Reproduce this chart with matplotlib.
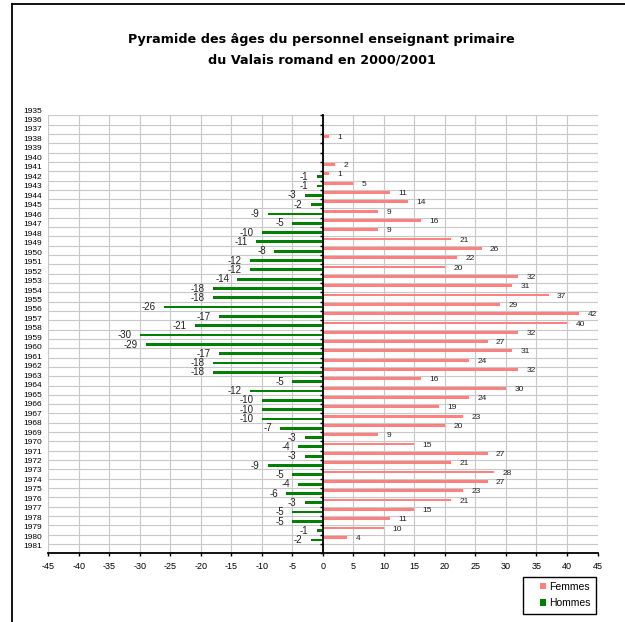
import numpy as np
import matplotlib
matplotlib.use("Agg")
import matplotlib.pyplot as plt
from matplotlib.lines import Line2D
from matplotlib.patches import Rectangle

years = list(range(1935, 1982))
femmes = [0, 0, 1, 0, 0, 2, 1, 5, 11, 14, 9, 16, 9, 21, 26, 22, 20, 32, 31, 37,
          29, 42, 40, 32, 27, 31, 24, 32, 16, 30, 24, 19, 23, 20, 9, 15, 27, 21,
          28, 27, 23, 21, 15, 11, 10, 4, 0]
hommes = [0, 0, 0, 0, 0, 0, -1, -1, -3, -2, -9, -5, -10, -11, -8, -12, -12, -14,
          -18, -18, -26, -17, -21, -30, -29, -17, -18, -18, -5, -12, -10, -10,
          -10, -7, -3, -4, -3, -9, -5, -4, -6, -3, -5, -5, -1, -2, 0]
xticks = list(range(-45, 46, 5))

plt.rcParams['font.family'] = ['Liberation Sans', 'DejaVu Sans']

fig = plt.figure(figsize=(6.25, 6.22), dpi=100)
ax = fig.add_axes([0.0773, 0.1105, 0.8787, 0.7041])

pos = np.arange(len(years))
h = 0.3
ax.barh(pos - 0.22, femmes, height=h, color='#ff8080', label='Femmes', zorder=3)
ax.barh(pos + 0.08, hommes, height=h, color='#008000', label='Hommes', zorder=3)

for i in range(len(years)):
    if femmes[i]:
        ax.annotate(str(femmes[i]), (femmes[i], pos[i] - 0.1), xytext=(6, 0),
                    textcoords='offset points', va='center', ha='left',
                    fontsize=6, color='#222222')
    if hommes[i]:
        ax.annotate(str(hommes[i]), (hommes[i], pos[i] + 0.1), xytext=(-6, 0),
                    textcoords='offset points', va='center', ha='right',
                    fontsize=7, color='#222222')

ax.set_xlim(-45, 45)
ax.set_ylim(len(years) - 0.5, -0.5)
ax.set_xticks(xticks)
ax.set_xticklabels([str(t) for t in xticks], fontsize=6.5)
ax.tick_params(axis='x', direction='out', length=2.5, width=1, pad=3.5)

# category axis sits on zero, labels drawn at the left
ax.spines['left'].set_position(('data', 0))
ax.spines['left'].set_linewidth(1.3)
ax.spines['left'].set_zorder(4)
ax.set_yticks([])
ax.set_yticks(np.arange(-0.5, len(years), 1), minor=True)
ax.tick_params(axis='y', which='minor', direction='out', length=2, width=1,
               labelleft=False)
ax.spines['top'].set_visible(False)
ax.spines['right'].set_visible(False)
ax.spines['bottom'].set_linewidth(1.3)

ax.grid(True, which='minor', axis='y', color='#c8c8c8', lw=0.8, zorder=0)
ax.grid(True, which='major', axis='x', color='#c8c8c8', lw=0.8, zorder=0)
ax.set_axisbelow(True)

label_pos = np.linspace(-0.96, 45.8, len(years))
trans = ax.get_yaxis_transform()
for y, yr in zip(label_pos, years):
    ax.text(-0.012, y, str(yr), transform=trans, ha='right', va='center',
            fontsize=6, clip_on=False)

fig.text(0.515, 0.936, "Pyramide des âges du personnel enseignant primaire",
         ha='center', va='center', fontsize=9.2, fontweight='bold',
         family='DejaVu Sans')
fig.text(0.515, 0.904, "du Valais romand en 2000/2001",
         ha='center', va='center', fontsize=9.2, fontweight='bold',
         family='DejaVu Sans')

leg = ax.legend(loc='center left', bbox_to_anchor=(535 / 625, 1 - 595 / 622),
                bbox_transform=fig.transFigure, fontsize=7.5, frameon=False,
                handlelength=0.6, handleheight=0.6, handletextpad=0.25,
                labelspacing=0.65, borderpad=0)
fig.add_artist(Rectangle((523 / 625, 1 - 614 / 622), 73 / 625, 37 / 622,
                         transform=fig.transFigure, fill=False,
                         edgecolor='black', lw=1))

# chart area border (cut by the picture on right and bottom)
fig.add_artist(Line2D([12 / 625, 12 / 625], [0, 1 - 4 / 622],
                      transform=fig.transFigure, color='black', lw=1.3))
fig.add_artist(Line2D([12 / 625, 1], [1 - 4 / 622, 1 - 4 / 622],
                      transform=fig.transFigure, color='black', lw=1.3))

fig.savefig('out.png', dpi=100)
